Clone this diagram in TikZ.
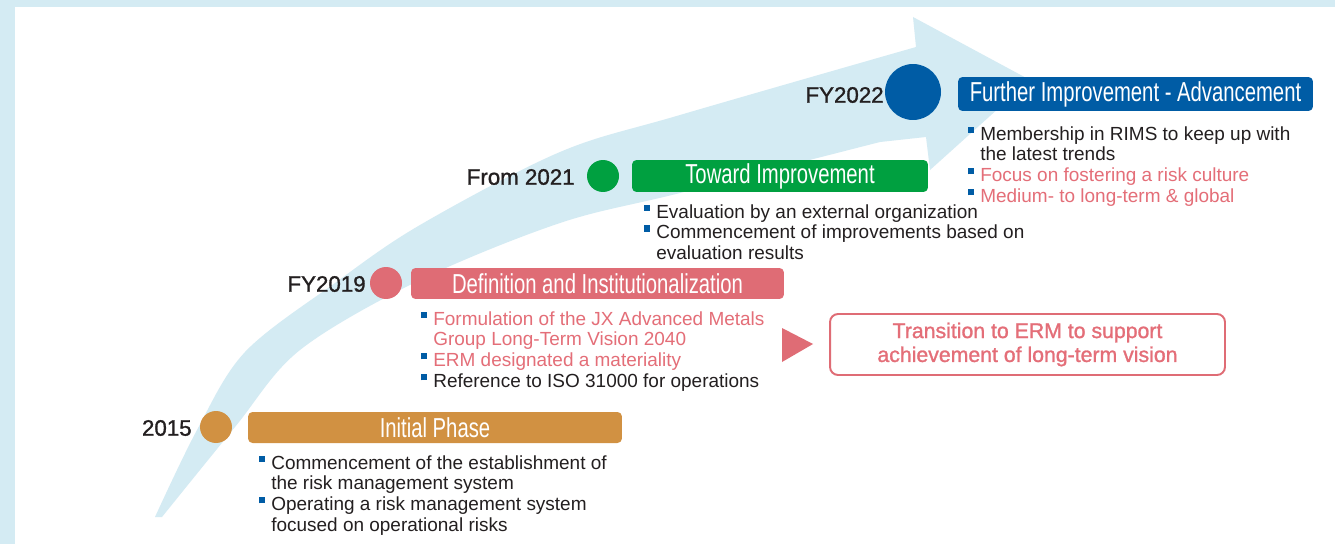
\documentclass[tikz,border=0pt]{standalone}
\usepackage{fontspec}
\setmainfont{Liberation Sans}
\newfontfamily\condfont[FakeStretch=0.74]{Liberation Sans}
\newfontfamily\medfont[FakeBold=1.2]{Liberation Sans}

\definecolor{bandblue}{HTML}{D4EBF3}
\definecolor{phaseorange}{HTML}{D19142}
\definecolor{phasepink}{HTML}{DF6C75}
\definecolor{phasegreen}{HTML}{00A040}
\definecolor{phaseblue}{HTML}{005CA5}
\definecolor{txtgray}{HTML}{231F20}
\definecolor{txtpink}{HTML}{E46E78}

\newcommand\bitem[2][txtgray]{\par\hangindent=6.8pt\hangafter=1\noindent
  \makebox[6.8pt][l]{\textcolor{phaseblue}{\rule[0.39em]{0.32em}{0.32em}}}\textcolor{#1}{#2}}
\newcommand\blist[1]{\begin{minipage}[t]{8cm}\parindent=0pt #1\end{minipage}}

\begin{document}
\begin{tikzpicture}[x=0.02cm,y=-0.02cm,
   year/.style={anchor=east,inner sep=0pt,text=txtgray,font=\medfont\fontsize{12.7}{14}\selectfont},
   dot/.style={circle,fill=#1,minimum size=0.64cm,inner sep=0pt},
   phase/.style={fill=#1,rounded corners=0.09cm,text=white,minimum height=0.62cm,inner sep=0pt,
     font=\condfont\fontsize{15.6}{17}\selectfont},
   items/.style={anchor=base west,inner sep=0pt,font=\fontsize{10.8}{11.9}\selectfont}]
  \useasboundingbox (0,0) rectangle (1335,544);
  \fill[bandblue] (0,0) rectangle (1335,544);
  \fill[white] (15,7) rectangle (1335,544);
  % the big arrow
  \fill[bandblue] plot[smooth,tension=0.55] coordinates {(155,517) (197,430) (245,352) (335,283)
      (420,225) (560,152) (680,115) (916,47)}
    -- (913,17) -- (1030,80) -- (930,170) -- (926,137)
    -- plot[smooth,tension=0.55] coordinates {(880,142) (680,193) (560,223) (420,280)
      (300,350) (235,427) (162,517)} -- cycle;

  \node[dot=phaseorange] (d2015) at (216,427) {};
  \node[year] (y2015) at (192,428) {2015};
  \node[phase=phaseorange,minimum width=7.48cm] (initial) at (435,427.5) {Initial Phase};
  \node[items] (initlist) at (259,469) {\blist{\bitem{Commencement of the establishment of\\the risk management system}
    \bitem{Operating a risk management system\\focused on operational risks}}};

  \node[dot=phasepink] (d2019) at (386,283) {};
  \node[year] (y2019) at (366,284) {FY2019};
  \node[phase=phasepink,minimum width=7.46cm] (definition) at (597.5,283.5) {Definition and Institutionalization};
  \node[items] (deflist) at (421,325) {\blist{\bitem[txtpink]{Formulation of the JX Advanced Metals\\Group Long-Term Vision 2040}
    \bitem[txtpink]{ERM designated a materiality}
    \bitem{Reference to ISO 31000 for operations}}};

  \fill[phasepink] (782,328) -- (813,344) -- (782,362) -- cycle;
  \node[draw=phasepink,line width=1.1pt,rounded corners=0.16cm,fill=white,minimum width=7.9cm,
    minimum height=1.22cm,align=center,text=txtpink,font=\medfont\fontsize{12.1}{13.6}\selectfont]
    (transition) at (1027.5,344.5) {Transition to ERM to support\\achievement of long-term vision};

  \node[dot=phasegreen] (d2021) at (603,176) {};
  \node[year] (y2021) at (575,177) {From 2021};
  \node[phase=phasegreen,minimum width=5.92cm,minimum height=0.64cm] (toward) at (780,176) {Toward Improvement};
  \node[items] (towlist) at (644,218) {\blist{\bitem{Evaluation by an external organization}
    \bitem{Commencement of improvements based on\\evaluation results}}};

  \node[dot=phaseblue,minimum size=1.12cm] (d2022) at (913,92) {};
  \node[year] (y2022) at (884,95) {FY2022};
  \node[phase=phaseblue,minimum width=7.1cm,minimum height=0.68cm] (further) at (1135.5,94) {Further Improvement - Advancement};
  \node[items] (furlist) at (968,140) {\blist{\bitem{Membership in RIMS to keep up with\\the latest trends}
    \bitem[txtpink]{Focus on fostering a risk culture}
    \bitem[txtpink]{Medium- to long-term \& global}}};
\end{tikzpicture}
\end{document}
